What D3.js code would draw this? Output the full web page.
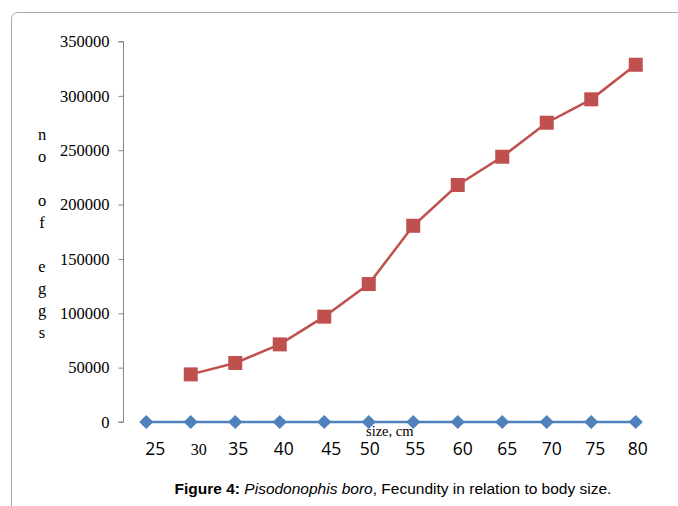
<!DOCTYPE html>
<html>
<head>
<meta charset="utf-8">
<script src="https://cdn.jsdelivr.net/npm/d3@7/dist/d3.min.js"></script>
<style>
  html, body { margin: 0; padding: 0; background: #fff; }
  svg { display: block; }
</style>
</head>
<body>
<svg id="chart" width="678" height="506"></svg>
<script>
// Body size classes (cm)
const sizes = ["25", "30", "35", "40", "45", "50", "55", "60", "65", "70", "75", "80"];
// Lower series: flat at zero for every class
const seriesBase = [0, 0, 0, 0, 0, 0, 0, 0, 0, 0, 0, 0];
// Fecundity (number of eggs); no value for the 25 cm class
const seriesEggs = [null, 43800, 54300, 71400, 96900, 126900, 180500, 218000, 244000, 275300, 296800, 328600];
// Y axis ticks
const yTicks = [0, 50000, 100000, 150000, 200000, 250000, 300000, 350000];
// Vertical axis title, one glyph per row (blank rows separate words)
const yTitleRows = ["n", "o", "", "o", "f", "", "e", "g", "g", "s"];

const svg = d3.select("#chart");

// Frame around the figure
svg.append("rect")
  .attr("x", 11.5).attr("y", 12.5)
  .attr("width", 700).attr("height", 520)
  .attr("rx", 6).attr("ry", 6)
  .attr("fill", "none")
  .attr("stroke", "#a6a6a6")
  .attr("stroke-width", 1);

const x = d3.scaleBand().domain(sizes).range([124, 658]);
const y = d3.scaleLinear().domain([0, 350000]).range([422, 41.5]);
const cx = d => x(d) + x.bandwidth() / 2;

// Y axis
const yAxis = d3.axisLeft(y).tickValues(yTicks).tickSize(5).tickPadding(9).tickFormat(d3.format("d"));
const gy = svg.append("g").attr("transform", "translate(123.5,0)").call(yAxis);
gy.select(".domain").attr("stroke", "#868686").attr("d", `M-5,${y(350000)}H0V${y(0)}H-5`);
gy.selectAll(".tick line").attr("stroke", "#868686");
gy.selectAll(".tick text")
  .attr("font-family", "'Liberation Serif', 'Times New Roman', serif")
  .attr("font-size", 16.5)
  .attr("fill", "#000");

// X axis labels (no axis line; labels only)
const labelShift = { "25": 9, "30": 8, "35": 3, "40": 4, "45": 7, "50": 1, "55": 2, "60": 5, "65": 5, "70": 5, "75": 4, "80": 2 };
const xAxis = d3.axisBottom(x).tickSize(0).tickPadding(0);
const gx = svg.append("g").attr("transform", "translate(0,455)").call(xAxis);
gx.select(".domain").remove();
gx.selectAll(".tick text")
  .attr("y", 0).attr("dy", 0)
  .attr("dx", d => labelShift[d])
  .attr("fill", "#000")
  .attr("font-family", d => d === "30" ? "'Liberation Serif', serif" : "'Open Sans', 'Liberation Sans', sans-serif")
  .attr("font-size", d => d === "30" ? 16 : 17.5);

// X axis title
svg.append("text")
  .attr("x", 366).attr("y", 435.5)
  .attr("font-family", "'Liberation Serif', serif")
  .attr("font-size", 14.5)
  .attr("fill", "#000")
  .text("size, cm");

// Y axis title, stacked letters
svg.append("g").selectAll("text")
  .data(yTitleRows)
  .join("text")
  .attr("x", 42)
  .attr("y", (d, i) => 140 + i * 22)
  .attr("text-anchor", "middle")
  .attr("font-family", "'Liberation Serif', serif")
  .attr("font-size", 16.5)
  .attr("fill", "#000")
  .text(d => d);

// Zero series: line and diamond markers
const blue = "#4f81bd";
const baseData = sizes.map((s, i) => ({ s, v: seriesBase[i] }));
svg.append("path")
  .datum(baseData)
  .attr("fill", "none").attr("stroke", blue).attr("stroke-width", 2.5)
  .attr("d", d3.line().x(d => cx(d.s)).y(d => y(d.v)));
svg.append("g").selectAll("path")
  .data(baseData)
  .join("path")
  .attr("transform", d => `translate(${cx(d.s)},${y(d.v)}) rotate(45)`)
  .attr("d", "M-5,-5H5V5H-5Z")
  .attr("fill", blue);

// Egg count series: line and square markers
const red = "#c0504d";
const eggData = sizes.map((s, i) => ({ s, v: seriesEggs[i] })).filter(d => d.v !== null);
svg.append("path")
  .datum(eggData)
  .attr("fill", "none").attr("stroke", red).attr("stroke-width", 2.5)
  .attr("d", d3.line().x(d => cx(d.s)).y(d => y(d.v)));
svg.append("g").selectAll("rect")
  .data(eggData)
  .join("rect")
  .attr("x", d => cx(d.s) - 7).attr("y", d => y(d.v) - 7)
  .attr("width", 14).attr("height", 14)
  .attr("fill", red);

// Caption
const cap = svg.append("text")
  .attr("x", 393).attr("y", 494)
  .attr("text-anchor", "middle")
  .attr("font-family", "'Liberation Sans', Arial, sans-serif")
  .attr("font-size", 15.5)
  .attr("fill", "#000");
cap.append("tspan").attr("font-weight", "bold").text("Figure 4: ");
cap.append("tspan").attr("font-style", "italic").text("Pisodonophis boro");
cap.append("tspan").text(", Fecundity in relation to body size.");
</script>
</body>
</html>
